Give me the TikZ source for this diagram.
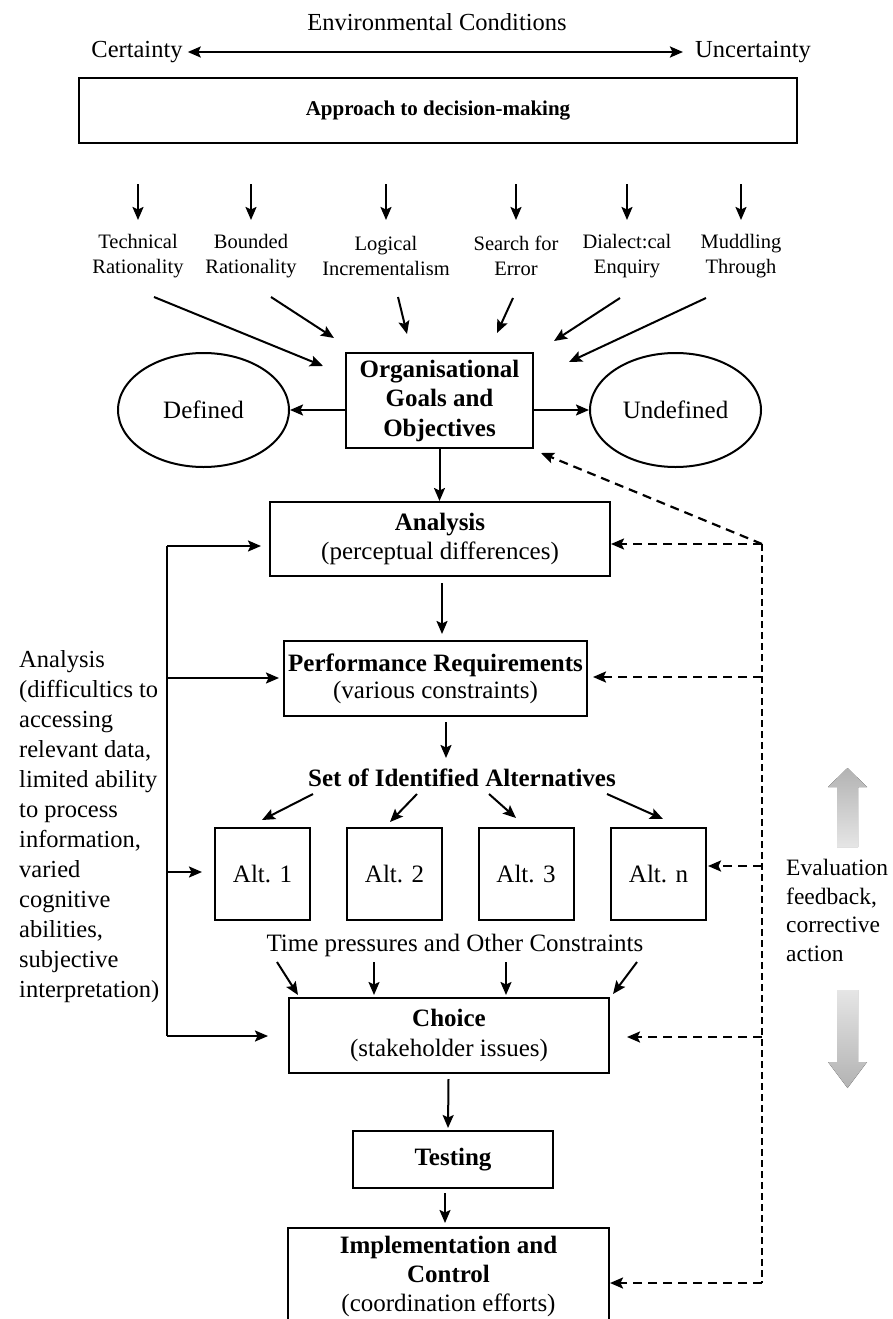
\documentclass[tikz,border=0pt]{standalone}
\usepackage{fontspec}
\setmainfont{Liberation Serif}
\usetikzlibrary{arrows.meta,shapes.geometric}

\newcommand\fsz[2]{\fontsize{#1}{#2}\selectfont}

\tikzset{
  plain/.style={inner sep=0pt, align=center},
  box/.style={draw, line width=2pt, inner sep=0pt, align=center},
  oval/.style={draw, ellipse, line width=2pt, inner sep=0pt},
  ln/.style={line width=2pt},
  tip/.style={-{Stealth[length=13pt,width=11pt,inset=2.5pt]}},
  arr/.style={line width=2pt, tip},
  biarr/.style={line width=2.4pt, {Stealth[length=13pt,width=11pt,inset=2.5pt]}-{Stealth[length=13pt,width=11pt,inset=2.5pt]}},
  dline/.style={line width=2pt, dash pattern=on 7pt off 4pt},
  darr/.style={line width=2.2pt, dash pattern=on 9pt off 6pt, tip},
  lbl/.style={inner sep=0pt, align=center, font=\fsz{20.5}{25}},
  greyup/.style={draw=none, top color=black!30, bottom color=black!10},
  greydown/.style={draw=none, top color=black!10, bottom color=black!30},
}

\begin{document}
\begin{tikzpicture}[x=1pt,y=-1pt]
\useasboundingbox (0,0) rectangle (893,1319);
\clip (0,0) rectangle (893,1319);

% environmental conditions scale
\node[plain, font=\fsz{24.5}{29}] (env) at (437,22) {Environmental Conditions};
\node[plain, font=\fsz{24.5}{29}] (cert) at (137,52) {Certainty};
\node[plain, font=\fsz{24.5}{29}] (unc) at (753,52) {Uncertainty};
\draw[biarr, shorten <=5pt, shorten >=12pt] (cert) -- (unc);

% approach box and its six variants
\node[box, minimum width=718pt, minimum height=65pt, font=\bfseries\fsz{21}{25}] (approach) at (438,110.5) {Approach to decision-making};

\node[lbl] (t1) at (138,256) {Technical\\Rationality};
\node[lbl] (t2) at (251,256) {Bounded\\Rationality};
\node[lbl] (t3) at (386,256) {Logical\\Incrementalism};
\node[lbl] (t4) at (516,256) {Search for\\Error};
\node[lbl] (t5) at (627,256) {Dialect:cal\\Enquiry};
\node[lbl] (t6) at (741,256) {Muddling\\Through};

\foreach \t in {t1,t2,t3,t4,t5,t6}
  \draw[arr] (approach.south -| \t) ++(0,40) -- ++(0,36);

% goals box with defined / undefined
\node[box, minimum width=187pt, minimum height=95pt, font=\bfseries\fsz{25}{29.5}] (org) at (439.5,400.5) {Organisational\\Goals and\\Objectives};
\node[oval, minimum width=171pt, minimum height=114pt, font=\fsz{25}{29}] (def) at (203.5,410) {Defined};
\node[oval, minimum width=171pt, minimum height=114pt, font=\fsz{25}{29}] (undef) at (675.5,410) {Undefined};
\draw[arr] (def.east -| org.west) -- (def.east);
\draw[arr] (undef.west -| org.east) -- (undef.west);

\draw[arr] ([shift={(16,41)}]t1.center) -- ([shift={(-116.5,14)}]org.north);
\draw[arr] ([shift={(20,41)}]t2.center) -- ([shift={(-105.5,-14)}]org.north);
\draw[arr] ([shift={(12,41)}]t3.center) -- ([shift={(-32.5,-18)}]org.north);
\draw[arr] ([shift={(-3,42)}]t4.center) -- ([shift={(57.5,-19)}]org.north);
\draw[arr] ([shift={(-7,42)}]t5.center) -- ([shift={(114.5,-11)}]org.north);
\draw[arr] ([shift={(-35,42)}]t6.center) -- ([shift={(129.5,10)}]org.north);

% main process chain
\node[box, minimum width=340pt, minimum height=74pt, font=\fsz{25}{29}] (ana) at (440,539) {\textbf{Analysis}\\(perceptual differences)};
\node[box, minimum width=303pt, minimum height=75pt, font=\fsz{25}{27}] (perf) at (435.5,678.5) {\textbf{Performance Requirements}\\(various constraints)};
\node[plain, font=\bfseries\fsz{25}{29}] (set) at (462,778) {Set of Identified Alternatives};

\draw[arr] (org.south) -- (org.south |- ana.north);
\draw[arr] ([xshift=2pt]ana.south) ++(0,6) -- ++(0,51);
\draw[arr] ([xshift=10.5pt]perf.south) ++(0,5) -- ++(0,36);

\node[box, minimum width=95pt, minimum height=92pt, font=\fsz{25}{29}] (alt1) at (262.5,874) {Alt. 1};
\node[box, minimum width=95pt, minimum height=92pt, font=\fsz{25}{29}] (alt2) at (394.5,874) {Alt. 2};
\node[box, minimum width=95pt, minimum height=92pt, font=\fsz{25}{29}] (alt3) at (526,874) {Alt. 3};
\node[box, minimum width=95pt, minimum height=92pt, font=\fsz{25}{29}] (altn) at (658.5,874) {Alt. n};

\draw[arr] ([shift={(-149,16)}]set.center) -- ([shift={(-0.5,-7)}]alt1.north);
\draw[arr] ([shift={(-45,16)}]set.center) -- ([shift={(-4.5,-5)}]alt2.north);
\draw[arr] ([shift={(27,16)}]set.center) -- ([shift={(-10,-9)}]alt3.north);
\draw[arr] ([shift={(145,16)}]set.center) -- ([shift={(4.5,-8)}]altn.north);

\node[plain, font=\fsz{25}{29}] (time) at (455,945) {Time pressures and Other Constraints};
\node[box, minimum width=320pt, minimum height=75pt, font=\fsz{25}{30}] (choice) at (449,1035.5) {\textbf{Choice}\\(stakeholder issues)};

\draw[arr] ([shift={(-178,17)}]time.center) -- ([shift={(-151,-2)}]choice.north);
\draw[arr] ([shift={(-81,17)}]time.center) -- ([shift={(-75,-2)}]choice.north);
\draw[arr] ([shift={(51,17)}]time.center) -- ([shift={(57,-2)}]choice.north);
\draw[arr] ([shift={(182,17)}]time.center) -- ([shift={(164,-3)}]choice.north);

\node[box, minimum width=200pt, minimum height=57pt, font=\bfseries\fsz{25}{29}] (test) at (453,1159.5) {Testing};
\node[box, minimum width=321pt, minimum height=96pt, anchor=north, font=\fsz{25}{29}] (impl) at (448.5,1227) {\textbf{Implementation and}\\\textbf{Control}\\(coordination efforts)};

\draw[arr, shorten >=2pt] ([xshift=-0.5pt]choice.south) ++(0,5) -- ([xshift=-5pt]test.north);
\draw[arr, shorten >=4pt] ([xshift=-8pt]test.south) ++(0,4) -- ([xshift=-3.5pt]impl.north);

% analysis difficulties feeding the stages
\node[plain, anchor=west, align=left, font=\fsz{24.5}{30}] (difftxt) at (19,827) {Analysis\\(difficultics to\\accessing\\relevant data,\\limited ability\\to process\\information,\\varied\\cognitive\\abilities,\\subjective\\interpretation)};

\coordinate (lTop) at (167,546);
\coordinate (lPerf) at (167,678);
\coordinate (lAlt) at (167,872);
\coordinate (lBot) at (167,1036);
\draw[ln] (lTop) -- (lBot);
\draw[arr, shorten >=8pt] (lTop) -- (lTop -| ana.west);
\draw[arr, shorten >=4pt] (lPerf) -- (lPerf -| perf.west);
\draw[arr, shorten >=12pt] (lAlt) -- (lAlt -| alt1.west);
\draw[arr, shorten >=20pt] (lBot) -- (lBot -| choice.west);

% evaluation feedback loop
\coordinate (fTop) at (762,544);
\coordinate (fPerf) at (762,677);
\coordinate (fAlt) at (762,866);
\coordinate (fCh) at (762,1037);
\coordinate (fBot) at (762,1283);
\draw[dline] (fTop) -- (fBot);
\draw[darr] (fTop) -- ([shift={(7,4)}]org.south east);
\draw[darr] (fTop) -- (fTop -| ana.east);
\draw[darr, shorten >=5pt] (fPerf) -- (fPerf -| perf.east);
\draw[darr, shorten >=1pt] (fAlt) -- (fAlt -| altn.east);
\draw[darr, shorten >=17pt] (fCh) -- (fCh -| choice.east);
\draw[darr] (fBot) -- (fBot -| impl.east);

\node[plain, anchor=west, align=left, font=\fsz{23.5}{28.5}] (evaltxt) at (786,910.5) {Evaluation\\feedback,\\corrective\\action};

% soft grey direction arrows
\fill[greyup] (847.5,768) -- (867,787) -- (858,787) -- (858,847) -- (837,847) -- (837,787) -- (828,787) -- cycle;
\fill[greydown] (837,990) -- (858,990) -- (858,1062) -- (867,1062) -- (847.5,1088) -- (828,1062) -- (837,1062) -- cycle;

\end{tikzpicture}
\end{document}
